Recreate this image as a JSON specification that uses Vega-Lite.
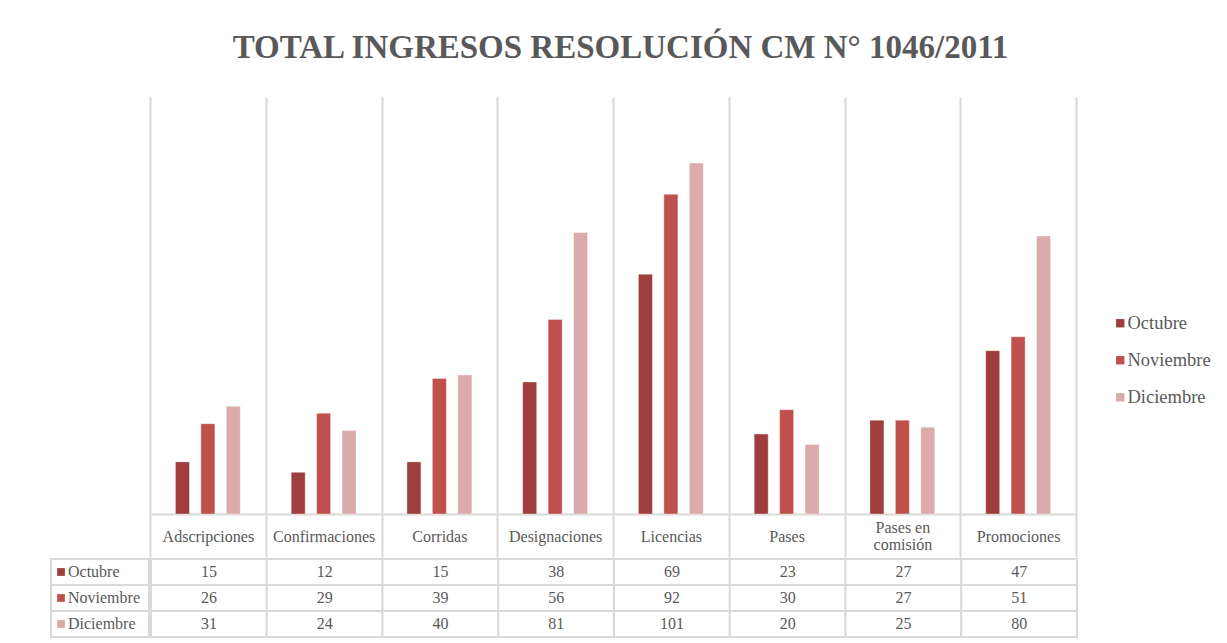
{
  "$schema": "https://vega.github.io/schema/vega-lite/v6.json",
  "padding": {"left": 50, "top": 32, "right": 5, "bottom": 5},
  "background": "white",
  "title": {
    "text": "TOTAL INGRESOS RESOLUCIÓN CM N° 1046/2011",
    "font": "Liberation Serif",
    "fontSize": 33,
    "fontWeight": "bold",
    "color": "#595959",
    "anchor": "middle",
    "dx": -10,
    "offset": 32
  },
  "config": {
    "font": "Liberation Serif",
    "view": {"stroke": null}
  },
  "datasets": {
    "d": [
      {"categoria": "Adscripciones", "mes": "Octubre", "valor": 15},
      {"categoria": "Adscripciones", "mes": "Noviembre", "valor": 26},
      {"categoria": "Adscripciones", "mes": "Diciembre", "valor": 31},
      {"categoria": "Confirmaciones", "mes": "Octubre", "valor": 12},
      {"categoria": "Confirmaciones", "mes": "Noviembre", "valor": 29},
      {"categoria": "Confirmaciones", "mes": "Diciembre", "valor": 24},
      {"categoria": "Corridas", "mes": "Octubre", "valor": 15},
      {"categoria": "Corridas", "mes": "Noviembre", "valor": 39},
      {"categoria": "Corridas", "mes": "Diciembre", "valor": 40},
      {"categoria": "Designaciones", "mes": "Octubre", "valor": 38},
      {"categoria": "Designaciones", "mes": "Noviembre", "valor": 56},
      {"categoria": "Designaciones", "mes": "Diciembre", "valor": 81},
      {"categoria": "Licencias", "mes": "Octubre", "valor": 69},
      {"categoria": "Licencias", "mes": "Noviembre", "valor": 92},
      {"categoria": "Licencias", "mes": "Diciembre", "valor": 101},
      {"categoria": "Pases", "mes": "Octubre", "valor": 23},
      {"categoria": "Pases", "mes": "Noviembre", "valor": 30},
      {"categoria": "Pases", "mes": "Diciembre", "valor": 20},
      {"categoria": "Pases en comisión", "mes": "Octubre", "valor": 27},
      {"categoria": "Pases en comisión", "mes": "Noviembre", "valor": 27},
      {"categoria": "Pases en comisión", "mes": "Diciembre", "valor": 25},
      {"categoria": "Promociones", "mes": "Octubre", "valor": 47},
      {"categoria": "Promociones", "mes": "Noviembre", "valor": 51},
      {"categoria": "Promociones", "mes": "Diciembre", "valor": 80}
    ],
    "series": [
      {"col": "serie", "mes": "Octubre"},
      {"col": "serie", "mes": "Noviembre"},
      {"col": "serie", "mes": "Diciembre"}
    ]
  },
  "resolve": {"scale": {"color": "independent"}, "legend": {"color": "independent"}},
  "spacing": 0,
  "vconcat": [
    {
      "spacing": 0,
      "hconcat": [
        {
          "data": {"values": []},
          "width": 98,
          "height": 417,
          "mark": "point",
          "encoding": {}
        },
        {
          "data": {"name": "d"},
          "width": 926,
          "height": 417,
          "mark": {"type": "bar", "stroke": "white", "strokeWidth": 0.6, "strokeOpacity": 0.6},
          "encoding": {
            "x": {
              "field": "categoria",
              "type": "nominal",
              "sort": null,
              "scale": {"paddingInner": 0, "paddingOuter": 0},
              "axis": {
                "title": null,
                "grid": true,
                "gridColor": "#d9d9d9",
                "gridWidth": 2,
                "tickBand": "extent",
                "ticks": true,
                "tickSize": 43,
                "tickColor": "#d9d9d9",
                "tickWidth": 2,
                "domainColor": "#d9d9d9",
                "domainWidth": 2,
                "labelAngle": 0,
                "labelFont": "Liberation Serif",
                "labelFontSize": 16,
                "labelColor": "#595959",
                "labelBaseline": "middle",
                "labelPadding": {"condition": {"test": "datum.value == 'Pases en comisión'", "value": -30}, "value": -21},
                "labelLineHeight": 17,
                "labelLimit": 200,
                "labelExpr": "datum.value == 'Pases en comisión' ? ['Pases en', 'comisión'] : datum.value"
              }
            },
            "xOffset": {
              "field": "mes",
              "type": "nominal",
              "sort": ["Octubre", "Noviembre", "Diciembre"],
              "scale": {"paddingInner": 0.45, "paddingOuter": 1.19}
            },
            "y": {
              "field": "valor",
              "type": "quantitative",
              "scale": {"domain": [0, 120], "nice": false},
              "axis": null
            },
            "color": {
              "field": "mes",
              "type": "nominal",
              "sort": ["Octubre", "Noviembre", "Diciembre"],
              "scale": {"domain": ["Octubre", "Noviembre", "Diciembre"], "range": ["#9e3d3d", "#c0504d", "#dbaaaa"]},
              "legend": {
                "title": null,
                "orient": "none",
                "legendX": 1060,
                "legendY": 217,
                "symbolType": "square",
                "symbolSize": 70,
                "symbolStrokeWidth": 0,
                "labelFont": "Liberation Serif",
                "labelFontSize": 18.5,
                "labelColor": "#595959",
                "labelOffset": -2,
                "rowPadding": 18
              }
            }
          }
        }
      ]
    },
    {
      "spacing": 0,
      "hconcat": [
        {
          "data": {"name": "series"},
          "width": 98,
          "height": 78,
          "encoding": {
            "x": {"field": "col", "type": "nominal", "scale": {"paddingInner": 0, "paddingOuter": 0}, "axis": null},
            "y": {"field": "mes", "type": "nominal", "sort": ["Octubre", "Noviembre", "Diciembre"], "scale": {"paddingInner": 0, "paddingOuter": 0}, "axis": null}
          },
          "layer": [
            {"mark": {"type": "rect", "fill": "white", "stroke": "#d9d9d9", "strokeWidth": 2}},
            {
              "mark": {"type": "point", "shape": "square", "filled": true, "size": 60, "xOffset": -39, "opacity": 1},
              "encoding": {
                "color": {
                  "field": "mes",
                  "type": "nominal",
                  "scale": {"domain": ["Octubre", "Noviembre", "Diciembre"], "range": ["#9e3d3d", "#c0504d", "#dbaaaa"]},
                  "legend": null
                }
              }
            },
            {
              "mark": {"type": "text", "align": "left", "dx": -32, "font": "Liberation Serif", "fontSize": 16, "color": "#595959"},
              "encoding": {"text": {"field": "mes"}}
            }
          ]
        },
        {
          "data": {"name": "d"},
          "width": 926,
          "height": 78,
          "encoding": {
            "x": {"field": "categoria", "type": "nominal", "sort": null, "scale": {"paddingInner": 0, "paddingOuter": 0}, "axis": null},
            "y": {"field": "mes", "type": "nominal", "sort": ["Octubre", "Noviembre", "Diciembre"], "scale": {"paddingInner": 0, "paddingOuter": 0}, "axis": null}
          },
          "layer": [
            {"mark": {"type": "rect", "fill": "white", "stroke": "#d9d9d9", "strokeWidth": 2}},
            {
              "mark": {"type": "text", "font": "Liberation Serif", "fontSize": 16, "color": "#595959"},
              "encoding": {"text": {"field": "valor", "type": "quantitative"}}
            }
          ]
        }
      ]
    }
  ]
}
